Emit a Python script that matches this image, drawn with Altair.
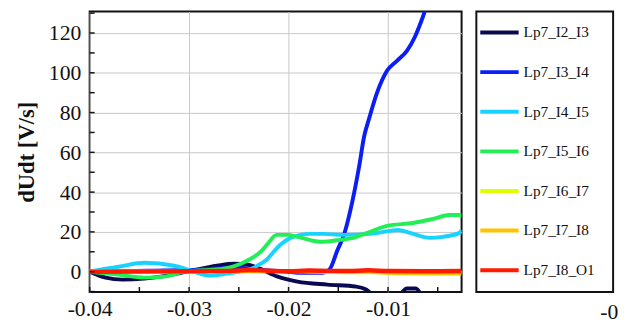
import altair as alt
import pandas as pd

# ---------------- data ----------------
series_names = ["Lp7_I2_I3", "Lp7_I3_I4", "Lp7_I4_I5", "Lp7_I5_I6",
                "Lp7_I6_I7", "Lp7_I7_I8", "Lp7_I8_O1"]
series_colors = ["#0a0a50", "#0a1ef5", "#18d2ff", "#22ee55",
                 "#e2ff00", "#ffc400", "#ff1a00"]

t_i2_i3 = [-0.0400, -0.0384, -0.0367, -0.0345, -0.0322, -0.0298, -0.0272, -0.0255,
           -0.0241, -0.0229, -0.0211, -0.0191, -0.0161, -0.0132, -0.0122, -0.0114,
           -0.0097, -0.0087, -0.0081, -0.0072, -0.0067, -0.0052, -0.0026]
v_i2_i3 = [0, -3, -4, -3.5, -2, 0.5, 3, 4, 3.5, 1.5, -2.5, -5, -6.5, -7.5, -9, -12,
           -14, -11, -8.5, -8.5, -11, -14, -14]

t_i3_i4 = [-0.0400, -0.0340, -0.0290, -0.0251, -0.0231, -0.0201, -0.0191, -0.0166,
           -0.0159, -0.0151, -0.0144, -0.0136, -0.0129, -0.0124, -0.0119, -0.0111,
           -0.0101, -0.0091, -0.0081, -0.0073, -0.0068, -0.0063, -0.0059]
v_i3_i4 = [0, 0.5, 1, 2, 1, 0, -0.5, -0.5, 1, 10.6, 19, 35, 53, 68, 77, 90,
           101, 106, 111, 118, 124, 131, 138]

t_i4_i5 = [-0.0400, -0.0384, -0.0371, -0.0345, -0.0315, -0.0298, -0.0278, -0.0262,
           -0.0245, -0.0235, -0.0228, -0.0222, -0.0215, -0.0207, -0.0198, -0.0188,
           -0.0178, -0.0165, -0.0145, -0.0118, -0.0098, -0.0090, -0.0078, -0.0058,
           -0.0045, -0.0028, -0.0026]
v_i4_i5 = [0, 1.5, 2.5, 4.5, 3, 0.5, -2, -1, 0.5, 2, 4, 6, 10, 14, 17, 18.5,
           19, 19, 18.5, 19, 20.5, 21, 19.5, 17, 17.5, 19.5, 21]

t_i5_i6 = [-0.0400, -0.0371, -0.0345, -0.0325, -0.0305, -0.0265, -0.0248, -0.0238,
           -0.0228, -0.0221, -0.0212, -0.0201, -0.0191, -0.0168, -0.0148, -0.0135,
           -0.0121, -0.0101, -0.0075, -0.0055, -0.0038, -0.0026]
v_i5_i6 = [0, -1.5, -3, -2.5, 0, 1.5, 4, 6.5, 10, 14, 18.5, 18.5, 17.5, 15, 16, 17,
           19.5, 23, 24.5, 26.5, 28.5, 28.5]

t_i6_i7 = [-0.0400, -0.0300, -0.0200, -0.0130, -0.0090, -0.0026]
v_i6_i7 = [0.3, 0.2, 0.3, -0.3, -0.3, -0.2]

t_i7_i8 = [-0.0400, -0.0300, -0.0200, -0.0120, -0.0090, -0.0060, -0.0026]
v_i7_i8 = [0.2, 0.3, 0.2, 0, -0.8, -0.9, -0.9]

t_i8_o1 = [-0.0400, -0.0300, -0.0260, -0.0240, -0.0200, -0.0180, -0.0160, -0.0140,
           -0.0120, -0.0100, -0.0060, -0.0026]
v_i8_o1 = [0, 0.2, 0.3, 0.8, 0.2, 0.6, 0.4, 0.3, 0.7, 0.3, 0.2, 0.3]

x_label_values = [-0.04, -0.03, -0.02, -0.01]
x_tick_values = [-0.04, -0.035, -0.03, -0.025, -0.02, -0.015, -0.01, -0.005]
y_label_values = [0, 20, 40, 60, 80, 100, 120]
y_tick_values = [-10, 0, 10, 20, 30, 40, 50, 60, 70, 80, 90, 100, 110, 120, 130]
y_title = "dUdt [V/s]"
extra_labels = ["-0"]

all_t = [t_i2_i3, t_i3_i4, t_i4_i5, t_i5_i6, t_i6_i7, t_i7_i8, t_i8_o1]
all_v = [v_i2_i3, v_i3_i4, v_i4_i5, v_i5_i6, v_i6_i7, v_i7_i8, v_i8_o1]

rows = []
for name, ts, vs in zip(series_names, all_t, all_v):
    for t, v in zip(ts, vs):
        rows.append({"series": name, "t": t, "v": v})
df = pd.DataFrame(rows)

FONT = "Liberation Serif"
XDOM = [-0.04, -0.0026]
YDOM = [-10.2, 130.8]
W, H = 378, 285

xscale = alt.Scale(domain=XDOM, nice=False, zero=False)
yscale = alt.Scale(domain=YDOM, nice=False, zero=False)
cscale = alt.Scale(domain=series_names, range=series_colors)

x_axis = alt.Axis(values=x_label_values, labelExpr="'' + datum.value", ticks=False,
                  domain=False, grid=True, gridColor="#c8c8c8", gridWidth=1,
                  labelFont=FONT, labelFontSize=22, labelColor="#111",
                  labelPadding=7, labelFlush=False, title=None)
y_axis = alt.Axis(values=y_label_values, ticks=False, domain=False, grid=True,
                  gridColor="#c8c8c8", gridWidth=1, labelFont=FONT,
                  labelFontSize=22, labelColor="#111", labelPadding=9,
                  title=y_title, titleFont=FONT, titleFontSize=23,
                  titleFontWeight="bold", titleColor="#111", titlePadding=10)

X_T = alt.X("t:Q", scale=xscale, axis=x_axis)
Y_V = alt.Y("v:Q", scale=yscale, axis=y_axis)

layers = []
for name in series_names:
    layers.append(
        alt.Chart(df).transform_filter(alt.datum.series == name)
        .mark_line(strokeWidth=4 if name != "Lp7_I8_O1" else 4.5,
                   clip=True, interpolate="monotone")
        .encode(
            x=X_T,
            y=Y_V,
            color=alt.Color("series:N", scale=cscale, legend=None),
        )
    )

xt = pd.DataFrame({"t": x_tick_values})
layers.append(
    alt.Chart(xt).mark_rule(color="#111", strokeWidth=1.5).encode(
        x=X_T,
        y=alt.value(H), y2=alt.value(H - 5),
    )
)
yt = pd.DataFrame({"v": y_tick_values})
layers.append(
    alt.Chart(yt).mark_rule(color="#111", strokeWidth=1.5).encode(
        y=Y_V,
        x=alt.value(0), x2=alt.value(5),
    )
)

main = alt.layer(*layers).properties(width=W, height=H)

# ---------- legend panel ----------
leg_df = pd.DataFrame({"series": series_names, "idx": list(range(len(series_names)))})
leg_y = alt.Scale(domain=[-0.53, 6.55], nice=False, zero=False, reverse=True)
leg_lines = alt.Chart(leg_df).mark_rule(strokeWidth=4).encode(
    y=alt.Y("idx:Q", scale=leg_y, axis=None),
    x=alt.value(4), x2=alt.value(43),
    color=alt.Color("series:N", scale=cscale, legend=None),
)
leg_text = alt.Chart(leg_df).mark_text(
    align="left", baseline="middle", font=FONT, fontSize=15.5, color="#111"
).encode(
    y=alt.Y("idx:Q", scale=leg_y, axis=None),
    x=alt.value(48),
    text="series:N",
)
extra = alt.Chart(pd.DataFrame({"lab": extra_labels})).mark_text(
    align="left", baseline="middle", font=FONT, fontSize=22, color="#111"
).encode(
    x=alt.value(126), y=alt.value(H + 20), text="lab:N"
)
legend = alt.layer(leg_lines, leg_text, extra).properties(width=139, height=H)

chart = alt.hconcat(main, legend, spacing=13).properties(
    padding={"left": 7, "top": 0, "right": 0, "bottom": 0},
    background="white",
).configure_view(stroke="#111", strokeWidth=2)

chart.save("out.html", embed_options={"renderer": "svg", "actions": False})
